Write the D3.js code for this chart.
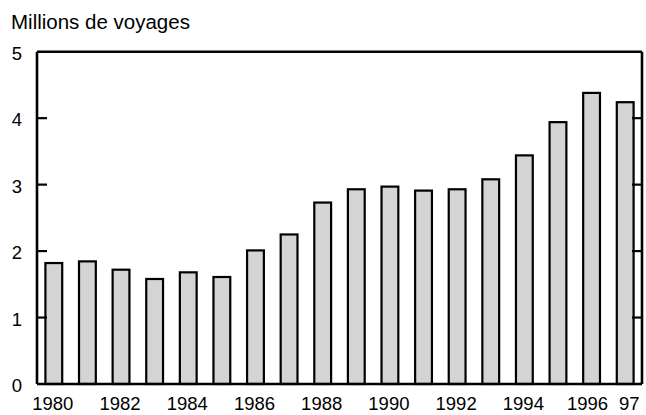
<!DOCTYPE html>
<html>
<head>
<meta charset="utf-8">
<script src="https://cdn.jsdelivr.net/npm/d3@7"></script>
<style>
  html, body { margin: 0; padding: 0; background: #fff; }
  svg { display: block; font-family: "Liberation Sans", Arial, sans-serif; }
</style>
</head>
<body>
<svg id="chart" width="646" height="415"></svg>
<script>
const years = [1980,1981,1982,1983,1984,1985,1986,1987,1988,1989,1990,1991,1992,1993,1994,1995,1996,1997];
const voyages = [1.82,1.845,1.72,1.58,1.68,1.61,2.01,2.25,2.73,2.93,2.97,2.91,2.93,3.08,3.44,3.94,4.38,4.24];
const yTicks = [0,1,2,3,4,5];
const xTickYears = [1980,1982,1984,1986,1988,1990,1992,1994,1996,1997];
const xTickLabels = ["1980","1982","1984","1986","1988","1990","1992","1994","1996","97"];
const yTitle = "Millions de voyages";

const svg = d3.select("#chart");
const L = 37, R = 642, T = 51.7, B = 384;

const x = d3.scaleBand().domain(years).range([L, R]).paddingInner(0.5).paddingOuter(0.25);
const y = d3.scaleLinear().domain([0, 5]).range([B, T]);

// bars
svg.append("g").selectAll("rect").data(years).join("rect")
  .attr("x", (d) => x(d))
  .attr("y", (d, i) => y(voyages[i]))
  .attr("width", x.bandwidth())
  .attr("height", (d, i) => y(0) - y(voyages[i]))
  .attr("fill", "#d4d4d4")
  .attr("stroke", "#000")
  .attr("stroke-width", 2.2);

// frame
const frame = svg.append("g").attr("fill", "none").attr("stroke", "#000").attr("stroke-width", 2.6);
frame.append("line").attr("x1", L).attr("x2", R).attr("y1", T).attr("y2", T);
frame.append("line").attr("x1", L).attr("x2", R).attr("y1", B).attr("y2", B);
frame.append("line").attr("x1", L).attr("x2", L).attr("y1", T).attr("y2", B);
frame.append("line").attr("x1", R).attr("x2", R).attr("y1", T).attr("y2", B);

// inward ticks left and right
const tk = svg.append("g").attr("stroke", "#000").attr("stroke-width", 2.2);
tk.selectAll("line.l").data(yTicks.slice(1, -1)).join("line").attr("class", "l")
  .attr("x1", L).attr("x2", L + 10).attr("y1", (d) => y(d)).attr("y2", (d) => y(d));
tk.selectAll("line.r").data(yTicks.slice(1, -1)).join("line").attr("class", "r")
  .attr("x1", R - 10).attr("x2", R).attr("y1", (d) => y(d)).attr("y2", (d) => y(d));

// y labels
svg.append("g").selectAll("text").data(yTicks).join("text")
  .attr("x", 22).attr("y", (d) => y(d)).attr("dy", "0.44em")
  .attr("text-anchor", "end").attr("font-size", 18.5).attr("fill", "#000")
  .text((d) => d);

// x labels
const nudge = { 1996: -3, 1997: 5 };
svg.append("g").selectAll("text").data(xTickYears).join("text")
  .attr("x", (d) => x(d) + x.bandwidth() / 2 + (nudge[d] || 0) - 1)
  .attr("y", 410)
  .attr("text-anchor", "middle").attr("font-size", 18.5).attr("fill", "#000")
  .text((d, i) => xTickLabels[i]);

// title
svg.append("text").attr("x", 11).attr("y", 29.3)
  .attr("font-size", 20.5).attr("fill", "#000").text(yTitle);
</script>
</body>
</html>
